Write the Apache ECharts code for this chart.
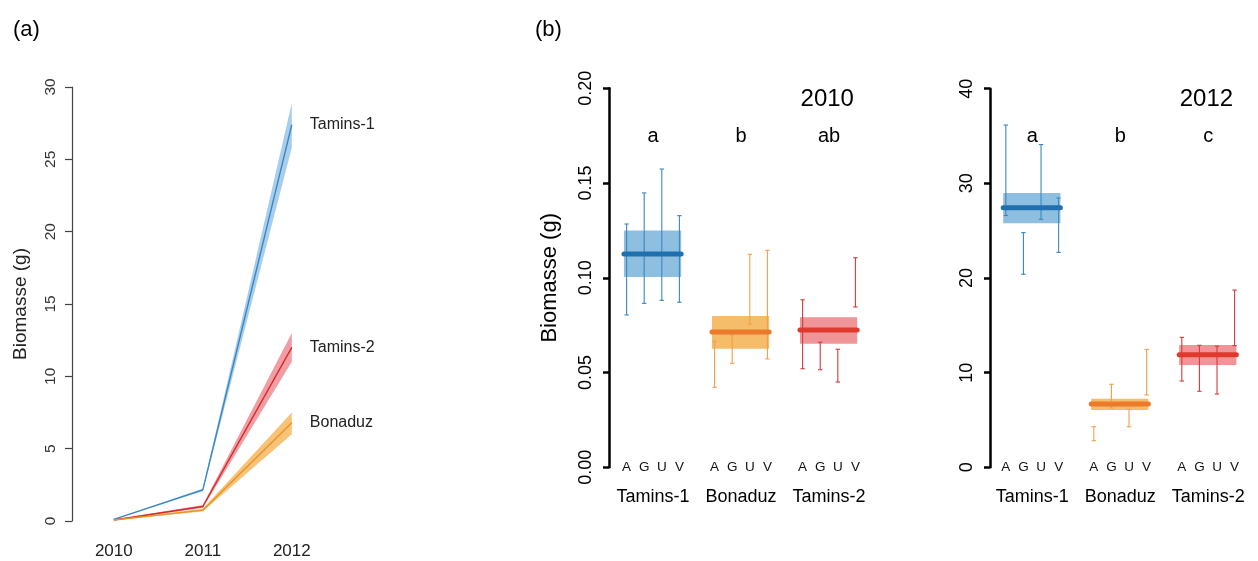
<!DOCTYPE html>
<html>
<head>
<meta charset="utf-8">
<script src="https://cdn.jsdelivr.net/npm/echarts@6/dist/echarts.min.js"></script>
<style>
html,body{margin:0;padding:0;background:#fff;}
#chart{width:1258px;height:561px;}
</style>
</head>
<body>
<div id="chart"></div>
<script>
// ---------- data ----------
const years = [2010, 2011, 2012];
const sites = ['Tamins-1', 'Bonaduz', 'Tamins-2'];
const soils = ['A', 'G', 'U', 'V'];

// panel (a): mean biomass and confidence band per site
const t1Mean = [0.11, 2.15, 27.4];
const t1Lo   = [0.10, 2.05, 25.8];
const t1Hi   = [0.12, 2.25, 28.9];
const bonMean = [0.07, 0.75, 6.8];
const bonLo   = [0.06, 0.65, 6.0];
const bonHi   = [0.08, 0.85, 7.5];
const t2Mean = [0.07, 1.00, 12.0];
const t2Lo   = [0.065, 0.90, 11.0];
const t2Hi   = [0.08, 1.10, 13.0];

// panel (b) 2010
const mean2010  = [0.1126, 0.0714, 0.0725];
const boxLo2010 = [0.1004, 0.0626, 0.0652];
const boxHi2010 = [0.1249, 0.0798, 0.0792];
const errLo2010 = [[0.0804, 0.0865, 0.0881, 0.0871], [0.0422, 0.0549, 0.0755, 0.0572], [0.0520, 0.0515, 0.0450, 0.0846]];
const errHi2010 = [[0.1284, 0.1448, 0.1574, 0.1328], [0.0665, 0.0698, 0.1124, 0.1145], [0.0884, 0.0660, 0.0623, 0.1106]];
const letters2010 = ['a', 'b', 'ab'];

// panel (b) 2012
const mean2012  = [27.43, 6.69, 11.9];
const boxLo2012 = [25.78, 6.05, 10.8];
const boxHi2012 = [28.98, 7.25, 12.92];
const errLo2012 = [[26.6, 20.4, 26.2, 22.7], [2.81, 6.26, 4.29, 7.64], [9.12, 8.03, 7.74, 12.85]];
const errHi2012 = [[36.16, 24.8, 34.1, 28.45], [4.29, 8.77, 6.12, 12.46], [13.73, 12.89, 12.8, 18.73]];
const letters2012 = ['a', 'b', 'c'];

// ---------- styling ----------
const FONT = 'Liberation Sans, Arial, sans-serif';
const lineCol = ['#3a85c4', '#e8922c', '#d42a2a'];
const bandCol = ['rgba(120,180,225,0.65)', 'rgba(245,170,60,0.7)', 'rgba(232,105,115,0.65)'];
const boxCol  = ['#8fbfe0', '#f5bc6a', '#ef9597'];
const meanCol = ['#2070b0', '#ec7a2a', '#df3a2f'];
const barCol  = ['#3b87bf', '#f0a048', '#d23b3b'];

const pos = (g, i) => g * 5 + i + 1;
const center = g => g * 5 + 2.5;
const itemPositions = [];
const groupCenters = [];
for (let g = 0; g < 3; g++) {
  groupCenters.push(center(g));
  for (let i = 0; i < 4; i++) itemPositions.push(pos(g, i));
}

const chart = echarts.init(document.getElementById('chart'));

function pairs(xs, ys) { return xs.map((x, k) => [x, ys[k]]); }

// panel (a) series
const aSeries = [];
const means = [t1Mean, bonMean, t2Mean];
const los = [t1Lo, bonLo, t2Lo];
const his = [t1Hi, bonHi, t2Hi];
[0, 1, 2].forEach(s => {
  aSeries.push({
    type: 'custom', xAxisIndex: 0, yAxisIndex: 0, silent: true, z: 1,
    data: years.map((y, k) => [y, los[s][k], his[s][k]]),
    renderItem: (params, api) => {
      if (params.dataIndex !== 0) return null;
      const top = years.map((y, k) => api.coord([y, his[s][k]]));
      const bot = years.map((y, k) => api.coord([y, los[s][k]])).reverse();
      return { type: 'polygon', shape: { points: top.concat(bot) }, style: { fill: bandCol[s] } };
    }
  });
});
[0, 2, 1].forEach(s => {
  aSeries.push({
    type: 'line', name: sites[s], xAxisIndex: 0, yAxisIndex: 0, symbol: 'none',
    data: pairs(years, means[s]), lineStyle: { color: lineCol[s], width: 1.4 }, z: 3,
    endLabel: { show: true, formatter: sites[s], distance: 18, fontSize: 16, color: '#222', fontFamily: FONT }
  });
});

function boxSeries(xi, yi, lo, hi) {
  return {
    type: 'custom', xAxisIndex: xi, yAxisIndex: yi, silent: true, z: 2,
    data: [0, 1, 2].map(g => [center(g), lo[g], hi[g], g]),
    renderItem: (params, api) => {
      const c = api.value(0), g = api.value(3);
      const p0 = api.coord([c - 1.65, api.value(2)]);
      const p1 = api.coord([c + 1.6, api.value(1)]);
      return { type: 'rect', shape: { x: p0[0], y: p0[1], width: p1[0] - p0[0], height: p1[1] - p0[1] },
        style: { fill: boxCol[g] } };
    }
  };
}
function errSeries(xi, yi, lo, hi) {
  const data = [];
  for (let g = 0; g < 3; g++) for (let i = 0; i < 4; i++) data.push([pos(g, i), lo[g][i], hi[g][i], g]);
  return {
    type: 'custom', xAxisIndex: xi, yAxisIndex: yi, silent: true, z: 3, data,
    renderItem: (params, api) => {
      const x = api.value(0), g = api.value(3);
      const a = api.coord([x, api.value(1)]);
      const b = api.coord([x, api.value(2)]);
      const st = { stroke: barCol[g], lineWidth: 1.1 };
      const cw = 2.2;
      return { type: 'group', children: [
        { type: 'line', shape: { x1: a[0], y1: a[1], x2: b[0], y2: b[1] }, style: st },
        { type: 'line', shape: { x1: a[0] - cw, y1: a[1], x2: a[0] + cw, y2: a[1] }, style: st },
        { type: 'line', shape: { x1: b[0] - cw, y1: b[1], x2: b[0] + cw, y2: b[1] }, style: st }
      ] };
    }
  };
}
function meanSeries(xi, yi, mean) {
  return {
    type: 'custom', xAxisIndex: xi, yAxisIndex: yi, silent: true, z: 4,
    data: [0, 1, 2].map(g => [center(g), mean[g], g]),
    renderItem: (params, api) => {
      const c = api.value(0), g = api.value(2);
      const a = api.coord([c - 1.65, api.value(1)]);
      const b = api.coord([c + 1.6, api.value(1)]);
      return { type: 'line', shape: { x1: a[0], y1: a[1], x2: b[0], y2: b[1] },
        style: { stroke: meanCol[g], lineWidth: 5, lineCap: 'round' } };
    }
  };
}
function textSeries(xi, yi, pts, texts, size) {
  return {
    type: 'custom', xAxisIndex: xi, yAxisIndex: yi, silent: true, z: 5,
    data: pts.map(p => [p[0], p[1]]),
    renderItem: (params, api) => {
      const p = api.coord([api.value(0), api.value(1)]);
      return { type: 'text', x: p[0], y: p[1],
        style: { text: texts[params.dataIndex], fill: '#000', fontSize: size, fontFamily: FONT,
          align: 'center', verticalAlign: 'middle' } };
    }
  };
}

function soilAxis(gi, min) {
  return {
    type: 'value', gridIndex: gi, min: min, max: 14.5, position: 'bottom',
    axisLine: { show: false }, axisTick: { show: false }, splitLine: { show: false },
    axisLabel: {
      customValues: itemPositions, margin: 0, verticalAlign: 'middle',
      formatter: v => soils[(Math.round(v) - 1) % 5], fontSize: 13.5, color: '#111', fontFamily: FONT
    }
  };
}
function siteAxis(gi, min) {
  return {
    type: 'value', gridIndex: gi, min: min, max: 14.5, position: 'bottom',
    axisLine: { show: false }, axisTick: { show: false }, splitLine: { show: false },
    axisLabel: {
      customValues: groupCenters, margin: 21,
      formatter: v => sites[Math.round((v - 2.5) / 5)], fontSize: 18, color: '#000', fontFamily: FONT
    }
  };
}
function bYAxis(gi, max, interval, fmt, name) {
  return {
    type: 'value', gridIndex: gi, min: 0, max: max, interval: interval,
    name: name, nameLocation: 'middle', nameGap: 48, nameRotate: 90,
    nameTextStyle: { fontSize: 22, color: '#000', fontFamily: FONT },
    axisLine: { show: true, lineStyle: { color: '#000', width: 2.5 } },
    axisTick: { show: true, length: 6, lineStyle: { color: '#000', width: 2.5 } },
    splitLine: { show: false },
    axisLabel: { rotate: 90, margin: 14, fontSize: 18, color: '#000', fontFamily: FONT, formatter: fmt }
  };
}

const option = {
  backgroundColor: '#fff',
  animation: false,
  title: [
    { text: '(a)', left: 8, top: 14, textStyle: { fontSize: 22, fontWeight: 'normal', color: '#000', fontFamily: FONT } },
    { text: '(b)', left: 530, top: 14, textStyle: { fontSize: 22, fontWeight: 'normal', color: '#000', fontFamily: FONT } }
  ],
  grid: [
    { left: 72, top: 87, width: 264.3, height: 434 },
    { left: 609, top: 88.3, width: 255.2, height: 379 },
    { left: 990, top: 88.7, width: 253.4, height: 378.6 }
  ],
  xAxis: [
    {
      type: 'value', gridIndex: 0, min: 2009.53, max: 2012.5,
      axisLine: { show: false }, axisTick: { show: false }, splitLine: { show: false },
      axisLabel: { customValues: years, margin: 22, fontSize: 17, color: '#222', fontFamily: FONT,
        formatter: v => String(v) }
    },
    soilAxis(1, 0), siteAxis(1, 0),
    soilAxis(2, 0.1), siteAxis(2, 0.1)
  ],
  yAxis: [
    {
      type: 'value', gridIndex: 0, min: 0, max: 30, interval: 5,
      name: 'Biomasse (g)', nameLocation: 'middle', nameGap: 42, nameRotate: 90,
      nameTextStyle: { fontSize: 19, color: '#222', fontFamily: FONT },
      axisLine: { show: true, lineStyle: { color: '#444', width: 1.2 } },
      axisTick: { show: true, length: 7, lineStyle: { color: '#444', width: 1.2 } },
      splitLine: { show: false },
      axisLabel: { rotate: 90, margin: 13, fontSize: 15.5, color: '#333', fontFamily: FONT }
    },
    bYAxis(1, 0.2, 0.05, v => v.toFixed(2), 'Biomasse (g)'),
    bYAxis(2, 40, 10, v => String(v), '')
  ],
  series: [
    ...aSeries,
    boxSeries(1, 1, boxLo2010, boxHi2010),
    errSeries(1, 1, errLo2010, errHi2010),
    meanSeries(1, 1, mean2010),
    textSeries(1, 1, groupCenters.map(c => [c, 0.1748]), letters2010, 20),
    textSeries(1, 1, [[12.4, 0.194]], ['2010'], 24),
    boxSeries(3, 2, boxLo2012, boxHi2012),
    errSeries(3, 2, errLo2012, errHi2012),
    meanSeries(3, 2, mean2012),
    textSeries(3, 2, groupCenters.map(c => [c, 35.0]), letters2012, 20),
    textSeries(3, 2, [[12.4, 38.9]], ['2012'], 24)
  ]
};
chart.setOption(option);
</script>
</body>
</html>
